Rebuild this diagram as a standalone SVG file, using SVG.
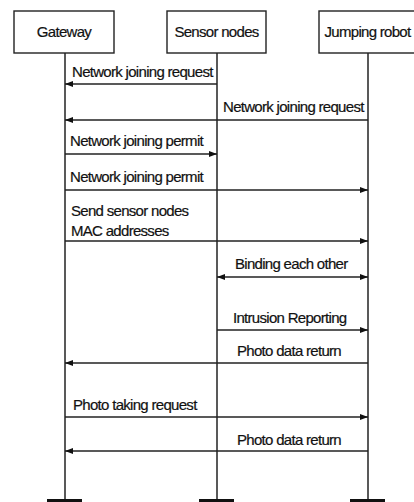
<svg xmlns="http://www.w3.org/2000/svg" width="414" height="502" viewBox="0 0 414 502">
<style>
  .box { fill: #fff; stroke: #222; stroke-width: 1.4; }
  .life { stroke: #222; stroke-width: 1.5; fill: none; }
  .msg { stroke: #222; stroke-width: 1.3; fill: none; }
  .foot { fill: #111; }
  text { font-family: "Liberation Sans", Arial, sans-serif; font-size: 15px; letter-spacing: -0.7px; fill: #111; stroke: #111; stroke-width: 0.2px; }
  .c { text-anchor: middle; }
</style>
<defs>
  <marker id="ah" markerUnits="userSpaceOnUse" markerWidth="10" markerHeight="8" refX="8" refY="4" orient="auto-start-reverse">
    <path d="M0,1 L8,4 L0,7 Z" fill="#111"/>
  </marker>
</defs>
<rect width="414" height="502" fill="#fff"/>
<g id="gateway">
  <rect class="box" x="14" y="11" width="100" height="42"/>
  <text class="c" x="64" y="37">Gateway</text>
  <line class="life" x1="65" y1="53" x2="65" y2="500"/>
  <rect class="foot" x="47" y="499" width="35" height="3"/>
</g>
<g id="sensor">
  <rect class="box" x="167" y="11" width="99" height="42"/>
  <text class="c" x="216.5" y="37">Sensor nodes</text>
  <line class="life" x1="217" y1="53" x2="217" y2="500"/>
  <rect class="foot" x="199" y="499" width="35" height="3"/>
</g>
<g id="robot">
  <rect class="box" x="319" y="11" width="100" height="42"/>
  <text class="c" x="367.5" y="37">Jumping robot</text>
  <line class="life" x1="368" y1="53" x2="368" y2="500"/>
  <rect class="foot" x="350" y="499" width="35" height="3"/>
</g>
<g id="connectors">
  <line class="msg" x1="217" y1="84" x2="65" y2="84" marker-end="url(#ah)"/>
  <line class="msg" x1="368" y1="120" x2="65" y2="120" marker-end="url(#ah)"/>
  <line class="msg" x1="65" y1="154" x2="217" y2="154" marker-end="url(#ah)"/>
  <line class="msg" x1="65" y1="190" x2="368" y2="190" marker-end="url(#ah)"/>
  <line class="msg" x1="65" y1="241" x2="368" y2="241" marker-end="url(#ah)"/>
  <line class="msg" x1="217" y1="277" x2="368" y2="277" marker-start="url(#ah)" marker-end="url(#ah)"/>
  <line class="msg" x1="217" y1="330" x2="368" y2="330" marker-end="url(#ah)"/>
  <line class="msg" x1="368" y1="363" x2="65" y2="363" marker-end="url(#ah)"/>
  <line class="msg" x1="65" y1="417" x2="368" y2="417" marker-end="url(#ah)"/>
  <line class="msg" x1="368" y1="451" x2="65" y2="451" marker-end="url(#ah)"/>
</g>
<g id="labels">
  <text x="72" y="77">Network joining request</text>
  <text x="223" y="112">Network joining request</text>
  <text x="70" y="146">Network joining permit</text>
  <text x="70" y="182">Network joining permit</text>
  <text x="71" y="216">Send sensor nodes</text>
  <text x="71" y="236">MAC addresses</text>
  <text x="235" y="269">Binding each other</text>
  <text x="233" y="323">Intrusion Reporting</text>
  <text x="237" y="356">Photo data return</text>
  <text x="73" y="410">Photo taking request</text>
  <text x="237" y="445">Photo data return</text>
</g>
</svg>
